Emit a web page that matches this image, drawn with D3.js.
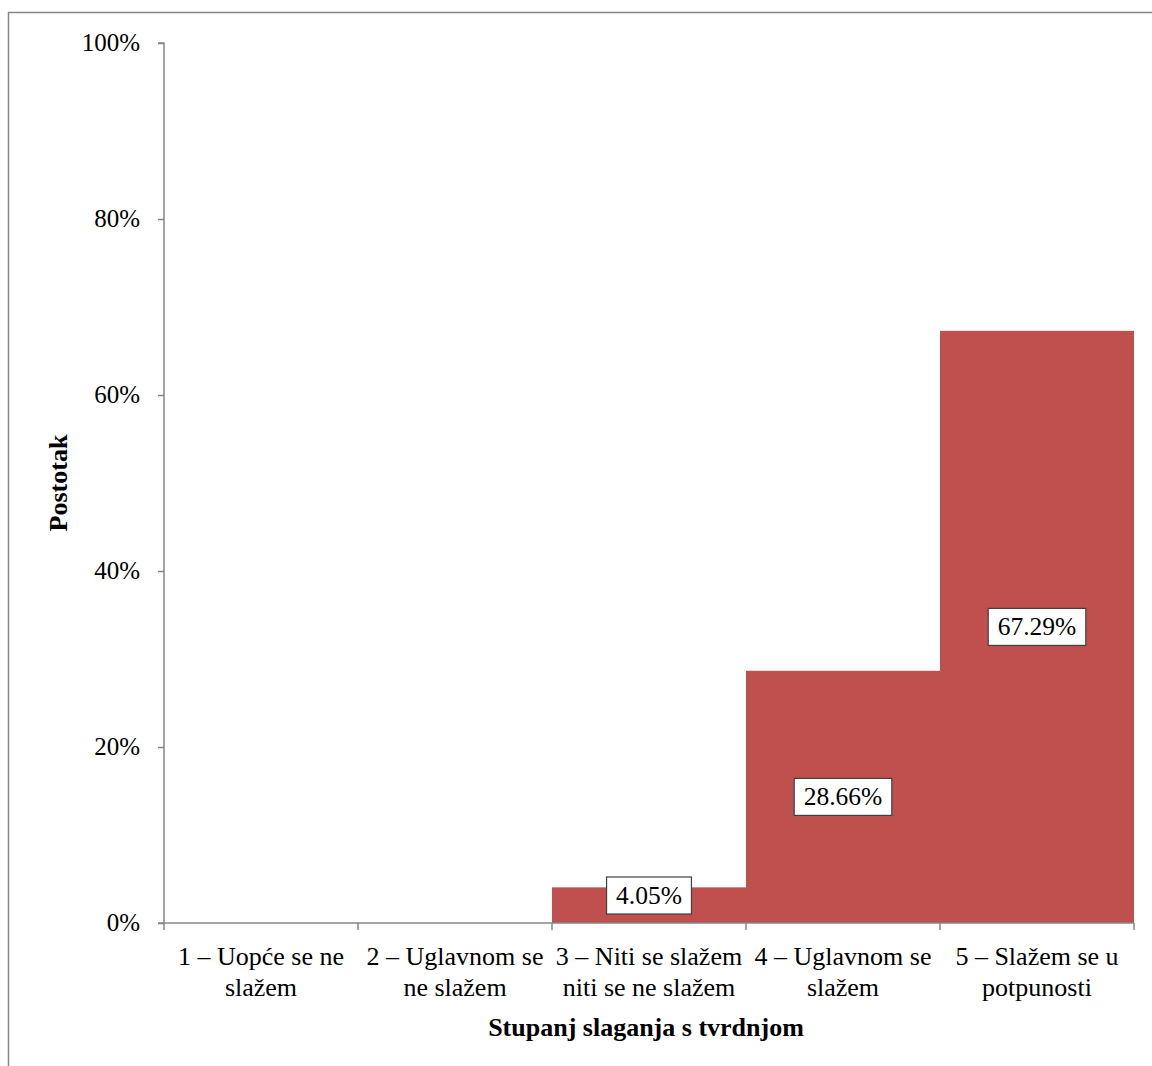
<!DOCTYPE html>
<html><head><meta charset="utf-8">
<script src="https://cdn.jsdelivr.net/npm/d3@7"></script>
<style>body{margin:0;background:#fff}svg{display:block}svg text{font-family:'Liberation Serif','DejaVu Serif',serif !important;fill:#000}</style>
</head><body><svg id="c" width="1152" height="1066"></svg>
<script>
const categories = [["1 – Uopće se ne","slažem"],["2 – Uglavnom se","ne slažem"],["3 – Niti se slažem","niti se ne slažem"],["4 – Uglavnom se","slažem"],["5 – Slažem se u","potpunosti"]];
const values = [0, 0, 4.05, 28.66, 67.29];
const yTicks = [0, 20, 40, 60, 80, 100];
const xTitle = "Stupanj slaganja s tvrdnjom";
const yTitle = "Postotak";

(function(){
const svg = d3.select("#c");
svg.append("rect").attr("x",8.5).attr("y",12.5).attr("width",1200).attr("height",1100).attr("fill","none").attr("stroke","#868686").attr("stroke-width",1.5);

const pL=164, pR=1134, pT=43, pB=923;
const x = d3.scaleBand().domain(d3.range(categories.length)).range([pL,pR]).padding(0);
const y = d3.scaleLinear().domain([0,100]).range([pB,pT]);

svg.selectAll(".bar").data(values).join("rect").attr("class","bar")
  .attr("x",(d,i)=>x(i)).attr("width",x.bandwidth())
  .attr("y",d=>y(d)).attr("height",d=>pB-y(d))
  .attr("fill","#C0504D");

const gy = svg.append("g").attr("transform",`translate(${pL},0)`)
  .call(d3.axisLeft(y).tickValues(yTicks).tickFormat(d=>d+"%").tickSize(6).tickPadding(18));
gy.attr("font-family",null).attr("font-size",null);
gy.select(".domain").attr("stroke","#868686").attr("stroke-width",1.5).attr("d",`M-6,${pT}H0V${pB}`);
gy.selectAll(".tick line").attr("stroke","#868686").attr("stroke-width",1.5);
gy.selectAll(".tick text").attr("font-size",25).attr("fill","#000").attr("dy","0.3em");

const gx = svg.append("g").attr("transform",`translate(0,${pB})`);
gx.append("line").attr("x1",pL-6).attr("x2",pR).attr("y1",0).attr("y2",0).attr("stroke","#868686").attr("stroke-width",1.5);
const bounds = d3.range(categories.length+1).map(i=> i<categories.length ? x(i) : x(i-1)+x.bandwidth());
gx.selectAll(".tk").data(bounds).join("line").attr("class","tk").attr("x1",d=>d).attr("x2",d=>d).attr("y1",0).attr("y2",7).attr("stroke","#868686").attr("stroke-width",1.5);
const lab = gx.selectAll(".cl").data(categories).join("text").attr("class","cl")
  .attr("text-anchor","middle").attr("font-size",26)
  .attr("transform",(d,i)=>`translate(${x(i)+x.bandwidth()/2},0)`);
lab.each(function(d){
  const t=d3.select(this);
  d.forEach((line,j)=>t.append("tspan").attr("x",0).attr("y",42+j*31).text(line));
});

values.forEach((v,i)=>{
  if(v<=0) return;
  const cx = x(i)+x.bandwidth()/2;
  let cy = (y(v)+pB)/2;
  const h=37;
  cy = Math.min(cy, pB-9-h/2);
  const g = svg.append("g");
  const t = g.append("text").attr("x",cx).attr("y",cy+8.5).attr("text-anchor","middle").attr("font-size",25.5).text(v.toFixed(2)+"%");
  const w = t.node().getComputedTextLength()+19;
  g.insert("rect","text").attr("x",cx-w/2).attr("y",cy-h/2).attr("width",w).attr("height",h).attr("fill","#fff").attr("stroke","#404040").attr("stroke-width",1.2);
});

svg.append("text").attr("x",646).attr("y",1036).attr("text-anchor","middle").attr("font-size",26).attr("font-weight","bold").text(xTitle);
svg.append("text").attr("transform",`translate(67,${(pT+pB)/2}) rotate(-90)`).attr("text-anchor","middle").attr("font-size",26).attr("font-weight","bold").text(yTitle);
})();
</script></body></html>
